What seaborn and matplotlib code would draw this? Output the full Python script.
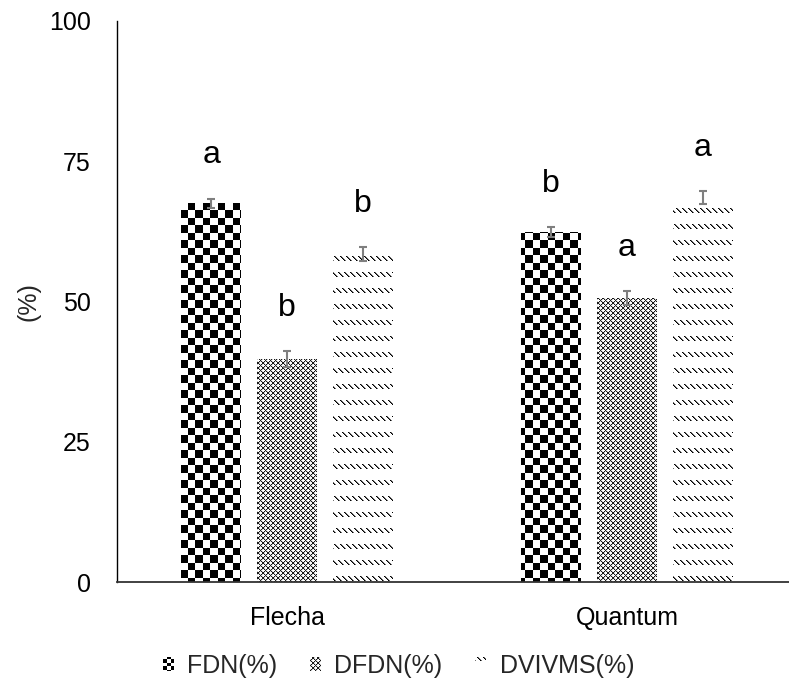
import numpy as np
import pandas as pd
import matplotlib
matplotlib.use("Agg")
import matplotlib.pyplot as plt
import seaborn as sns

# ---------------- data ----------------
cultivars = ["Flecha", "Quantum"]
variables = ["FDN(%)", "DFDN(%)", "DVIVMS(%)"]
fdn = [67.5, 62.4]
dfdn = [39.7, 50.6]
dvivms = [58.5, 68.5]
fdn_err = [0.8, 0.9]
dfdn_err = [1.4, 1.2]
dvivms_err = [1.2, 1.2]
fdn_letters = ["a", "b"]
dfdn_letters = ["b", "a"]
dvivms_letters = ["b", "a"]
y_ticks = [0, 25, 50, 75, 100]
y_label = "(%)"

sns.set_theme(style="white")
plt.rcParams["font.family"] = ["Liberation Sans", "DejaVu Sans"]

df = pd.DataFrame({
    "Cultivar": cultivars * 3,
    "Variable": [v for v in variables for _ in cultivars],
    "Valor": fdn + dfdn + dvivms,
})
errs = {variables[0]: fdn_err, variables[1]: dfdn_err, variables[2]: dvivms_err}
letters = {variables[0]: fdn_letters, variables[1]: dfdn_letters, variables[2]: dvivms_letters}

W, H = 789, 682
FS = 18
fig = plt.figure(figsize=(W / 100, H / 100), dpi=100)
fig.patch.set_facecolor("white")
ax = fig.add_axes([117 / W, 100 / H, 1 - 117 / W, (582 - 21) / H])
ax.patch.set_visible(False)

sns.barplot(data=df, x="Cultivar", y="Valor", hue="Variable", order=cultivars,
            hue_order=variables, palette={v: "white" for v in variables},
            width=0.67, gap=0.21, errorbar=None, linewidth=0, ax=ax)

ax.set_xlim(-0.5, -0.5 + (W - 117) / 340)
ax.set_ylim(0, 100)
ax.set_yticks(y_ticks)
ax.set_yticklabels([str(t) for t in y_ticks])
ax.tick_params(axis="both", length=0, labelsize=FS, colors="black")
ax.tick_params(axis="y", pad=19)
ax.tick_params(axis="x", pad=17)
ax.set_xlabel("")
ax.set_ylabel(y_label, fontsize=FS, labelpad=6)
for s in ["top", "right"]:
    ax.spines[s].set_visible(False)
ax.spines["left"].set_color("#000000")
ax.spines["left"].set_linewidth(1.0)
ax.spines["bottom"].set_color("#333333")
ax.spines["bottom"].set_linewidth(1.3)

# error bars and letters
for cont, var in zip(ax.containers, variables):
    for bar, e, lt in zip(cont.patches, errs[var], letters[var]):
        xc = bar.get_x() + bar.get_width() / 2
        h = bar.get_height()
        ax.errorbar(xc, h, yerr=e, fmt="none", ecolor="#7f7f7f",
                    elinewidth=1.5, capsize=3, capthick=1.5, zorder=5)
        ax.text(xc, h + e + 6.3, lt, ha="center", va="baseline",
                fontsize=23, color="black", zorder=6)
        bar.set_facecolor("none")
        bar.set_edgecolor("none")

sns.move_legend(ax, "center", bbox_to_anchor=(0.505, 0.0235),
                bbox_transform=fig.transFigure, ncol=3, frameon=False,
                title=None, handlelength=0.43, handleheight=0.43,
                handletextpad=0.55, columnspacing=1.3, fontsize=FS)
leg = ax.get_legend()
for hnd in leg.legend_handles:
    hnd.set_facecolor("none")
    hnd.set_edgecolor("none")


# ---------------- fill patterns ----------------
def pat_checker(X, Y, s=7.5):
    return np.where(((np.floor(X / s) + np.floor(Y / s)) % 2) == 0, 0.0, 1.0)


def pat_diamond(X, Y):
    u = (X + Y) % 5
    v = (X - Y) % 5
    out = np.ones_like(X, dtype=float)
    out[(u == 1) | (v == 1)] = 0.8
    out[(u == 0) | (v == 0)] = 0.1
    return out


def pat_dash(X, Y):
    rows = (Y % 16) < 5
    d = (X - Y) % 6
    out = np.ones_like(X, dtype=float)
    out[rows & (d == 1)] = 0.45
    out[rows & (d == 0)] = 0.0
    return out


patterns = [pat_checker, pat_diamond, pat_dash]
legend_patterns = [lambda X, Y: pat_checker(X, Y, 3.7), pat_diamond, pat_dash]

fig.canvas.draw()
renderer = fig.canvas.get_renderer()


def paint(bb, func):
    x0 = int(round(bb.x0)); x1 = int(round(bb.x1))
    y0 = int(round(bb.y0)); y1 = int(round(bb.y1))
    w = x1 - x0; h = y1 - y0
    if w <= 0 or h <= 0:
        return
    cols = np.arange(x0, x1)
    rows_top = (H - y1) + np.arange(h)
    X, Y = np.meshgrid(cols, rows_top)
    g = func(X, Y)
    img = np.dstack([g, g, g])
    fig.figimage(img, xo=x0, yo=y0, origin="upper", zorder=-1)


for cont, func in zip(ax.containers, patterns):
    for bar in cont.patches:
        paint(bar.get_window_extent(renderer), func)

for hnd, func in zip(leg.legend_handles, legend_patterns):
    paint(hnd.get_window_extent(renderer), func)

fig.savefig("out.png", dpi=100, facecolor="white")
